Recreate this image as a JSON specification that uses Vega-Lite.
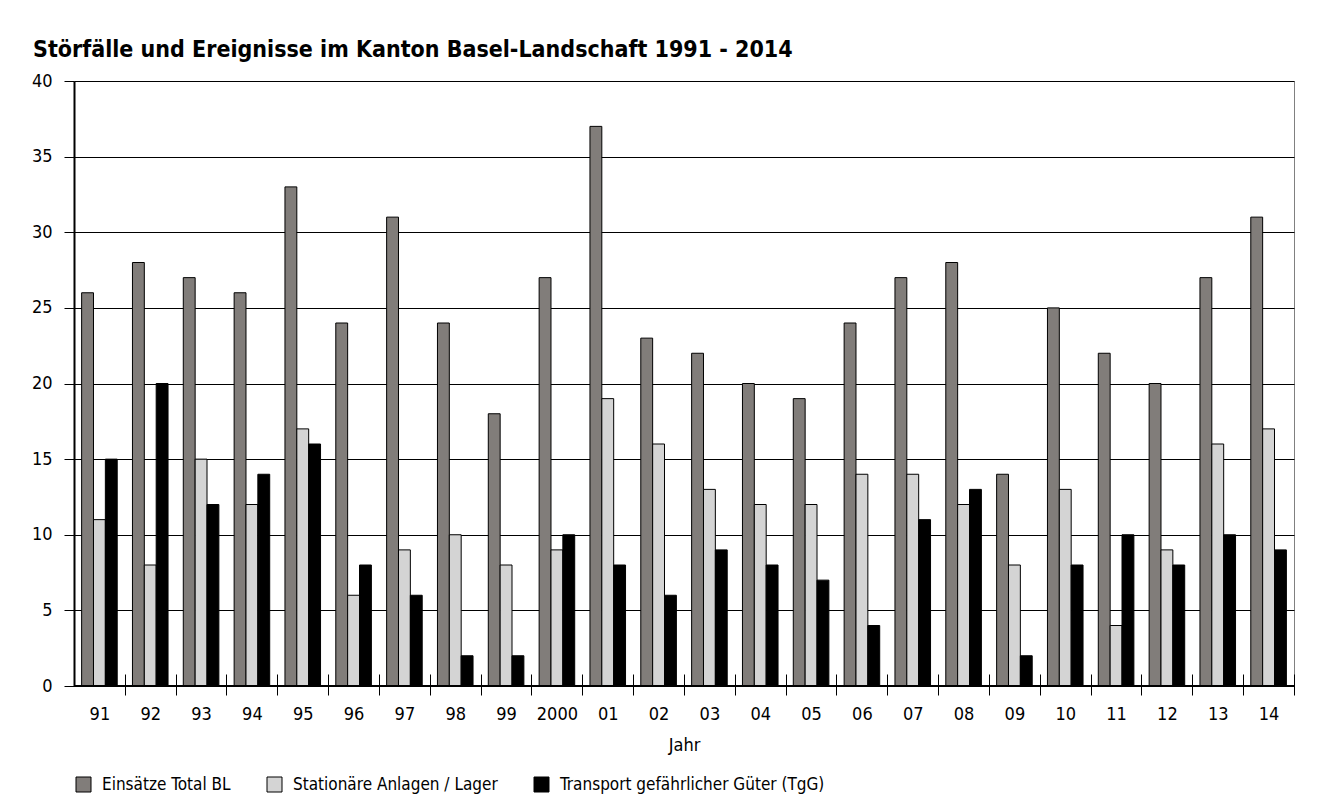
{
  "$schema": "https://vega.github.io/schema/vega-lite/v6.json",
  "autosize": "none",
  "width": 1220,
  "height": 605,
  "padding": {"left": 74, "top": 81, "right": 27, "bottom": 118},
  "background": "white",
  "title": {
    "text": "Störfälle und Ereignisse im Kanton Basel-Landschaft 1991 - 2014",
    "anchor": "start",
    "frame": "group",
    "dx": -41,
    "offset": 10,
    "font": "DejaVu Sans Condensed, sans-serif",
    "fontSize": 23,
    "fontWeight": "bold",
    "color": "#000"
  },
  "config": {
    "font": "DejaVu Sans Condensed, sans-serif",
    "view": {"stroke": "#808080", "strokeWidth": 1}
  },
  "data": {
    "values": [
      {"Jahr": "91", "Serie": "Einsätze Total BL", "Wert": 26},
      {"Jahr": "91", "Serie": "Stationäre Anlagen / Lager", "Wert": 11},
      {"Jahr": "91", "Serie": "Transport gefährlicher Güter (TgG)", "Wert": 15},
      {"Jahr": "92", "Serie": "Einsätze Total BL", "Wert": 28},
      {"Jahr": "92", "Serie": "Stationäre Anlagen / Lager", "Wert": 8},
      {"Jahr": "92", "Serie": "Transport gefährlicher Güter (TgG)", "Wert": 20},
      {"Jahr": "93", "Serie": "Einsätze Total BL", "Wert": 27},
      {"Jahr": "93", "Serie": "Stationäre Anlagen / Lager", "Wert": 15},
      {"Jahr": "93", "Serie": "Transport gefährlicher Güter (TgG)", "Wert": 12},
      {"Jahr": "94", "Serie": "Einsätze Total BL", "Wert": 26},
      {"Jahr": "94", "Serie": "Stationäre Anlagen / Lager", "Wert": 12},
      {"Jahr": "94", "Serie": "Transport gefährlicher Güter (TgG)", "Wert": 14},
      {"Jahr": "95", "Serie": "Einsätze Total BL", "Wert": 33},
      {"Jahr": "95", "Serie": "Stationäre Anlagen / Lager", "Wert": 17},
      {"Jahr": "95", "Serie": "Transport gefährlicher Güter (TgG)", "Wert": 16},
      {"Jahr": "96", "Serie": "Einsätze Total BL", "Wert": 24},
      {"Jahr": "96", "Serie": "Stationäre Anlagen / Lager", "Wert": 6},
      {"Jahr": "96", "Serie": "Transport gefährlicher Güter (TgG)", "Wert": 8},
      {"Jahr": "97", "Serie": "Einsätze Total BL", "Wert": 31},
      {"Jahr": "97", "Serie": "Stationäre Anlagen / Lager", "Wert": 9},
      {"Jahr": "97", "Serie": "Transport gefährlicher Güter (TgG)", "Wert": 6},
      {"Jahr": "98", "Serie": "Einsätze Total BL", "Wert": 24},
      {"Jahr": "98", "Serie": "Stationäre Anlagen / Lager", "Wert": 10},
      {"Jahr": "98", "Serie": "Transport gefährlicher Güter (TgG)", "Wert": 2},
      {"Jahr": "99", "Serie": "Einsätze Total BL", "Wert": 18},
      {"Jahr": "99", "Serie": "Stationäre Anlagen / Lager", "Wert": 8},
      {"Jahr": "99", "Serie": "Transport gefährlicher Güter (TgG)", "Wert": 2},
      {"Jahr": "2000", "Serie": "Einsätze Total BL", "Wert": 27},
      {"Jahr": "2000", "Serie": "Stationäre Anlagen / Lager", "Wert": 9},
      {"Jahr": "2000", "Serie": "Transport gefährlicher Güter (TgG)", "Wert": 10},
      {"Jahr": "01", "Serie": "Einsätze Total BL", "Wert": 37},
      {"Jahr": "01", "Serie": "Stationäre Anlagen / Lager", "Wert": 19},
      {"Jahr": "01", "Serie": "Transport gefährlicher Güter (TgG)", "Wert": 8},
      {"Jahr": "02", "Serie": "Einsätze Total BL", "Wert": 23},
      {"Jahr": "02", "Serie": "Stationäre Anlagen / Lager", "Wert": 16},
      {"Jahr": "02", "Serie": "Transport gefährlicher Güter (TgG)", "Wert": 6},
      {"Jahr": "03", "Serie": "Einsätze Total BL", "Wert": 22},
      {"Jahr": "03", "Serie": "Stationäre Anlagen / Lager", "Wert": 13},
      {"Jahr": "03", "Serie": "Transport gefährlicher Güter (TgG)", "Wert": 9},
      {"Jahr": "04", "Serie": "Einsätze Total BL", "Wert": 20},
      {"Jahr": "04", "Serie": "Stationäre Anlagen / Lager", "Wert": 12},
      {"Jahr": "04", "Serie": "Transport gefährlicher Güter (TgG)", "Wert": 8},
      {"Jahr": "05", "Serie": "Einsätze Total BL", "Wert": 19},
      {"Jahr": "05", "Serie": "Stationäre Anlagen / Lager", "Wert": 12},
      {"Jahr": "05", "Serie": "Transport gefährlicher Güter (TgG)", "Wert": 7},
      {"Jahr": "06", "Serie": "Einsätze Total BL", "Wert": 24},
      {"Jahr": "06", "Serie": "Stationäre Anlagen / Lager", "Wert": 14},
      {"Jahr": "06", "Serie": "Transport gefährlicher Güter (TgG)", "Wert": 4},
      {"Jahr": "07", "Serie": "Einsätze Total BL", "Wert": 27},
      {"Jahr": "07", "Serie": "Stationäre Anlagen / Lager", "Wert": 14},
      {"Jahr": "07", "Serie": "Transport gefährlicher Güter (TgG)", "Wert": 11},
      {"Jahr": "08", "Serie": "Einsätze Total BL", "Wert": 28},
      {"Jahr": "08", "Serie": "Stationäre Anlagen / Lager", "Wert": 12},
      {"Jahr": "08", "Serie": "Transport gefährlicher Güter (TgG)", "Wert": 13},
      {"Jahr": "09", "Serie": "Einsätze Total BL", "Wert": 14},
      {"Jahr": "09", "Serie": "Stationäre Anlagen / Lager", "Wert": 8},
      {"Jahr": "09", "Serie": "Transport gefährlicher Güter (TgG)", "Wert": 2},
      {"Jahr": "10", "Serie": "Einsätze Total BL", "Wert": 25},
      {"Jahr": "10", "Serie": "Stationäre Anlagen / Lager", "Wert": 13},
      {"Jahr": "10", "Serie": "Transport gefährlicher Güter (TgG)", "Wert": 8},
      {"Jahr": "11", "Serie": "Einsätze Total BL", "Wert": 22},
      {"Jahr": "11", "Serie": "Stationäre Anlagen / Lager", "Wert": 4},
      {"Jahr": "11", "Serie": "Transport gefährlicher Güter (TgG)", "Wert": 10},
      {"Jahr": "12", "Serie": "Einsätze Total BL", "Wert": 20},
      {"Jahr": "12", "Serie": "Stationäre Anlagen / Lager", "Wert": 9},
      {"Jahr": "12", "Serie": "Transport gefährlicher Güter (TgG)", "Wert": 8},
      {"Jahr": "13", "Serie": "Einsätze Total BL", "Wert": 27},
      {"Jahr": "13", "Serie": "Stationäre Anlagen / Lager", "Wert": 16},
      {"Jahr": "13", "Serie": "Transport gefährlicher Güter (TgG)", "Wert": 10},
      {"Jahr": "14", "Serie": "Einsätze Total BL", "Wert": 31},
      {"Jahr": "14", "Serie": "Stationäre Anlagen / Lager", "Wert": 17},
      {"Jahr": "14", "Serie": "Transport gefährlicher Güter (TgG)", "Wert": 9}
    ]
  },
  "layer": [
    {
      "mark": {"type": "bar", "stroke": "#000", "strokeWidth": 1},
      "encoding": {
        "x": {
          "field": "Jahr",
          "type": "nominal",
          "sort": null,
          "scale": {"paddingInner": 0.3, "paddingOuter": 0.15},
          "axis": {
            "title": "Jahr",
            "labelAngle": 0,
            "domain": false,
            "offset": -12,
            "tickSize": 21,
            "tickColor": "#000",
            "tickWidth": 1,
            "bandPosition": 1,
            "tickOffset": 7.6,
            "labelOffset": -7.6,
            "labelPadding": 10,
            "labelFontSize": 18,
            "labelColor": "#000",
            "titleFontSize": 18,
            "titleFontWeight": "normal",
            "titleColor": "#000",
            "titlePadding": 13
          }
        },
        "xOffset": {
          "field": "Serie",
          "sort": ["Einsätze Total BL", "Stationäre Anlagen / Lager", "Transport gefährlicher Güter (TgG)"]
        },
        "y": {
          "field": "Wert",
          "type": "quantitative",
          "scale": {"domain": [0, 40]},
          "axis": {
            "title": null,
            "values": [0, 5, 10, 15, 20, 25, 30, 35, 40],
            "domainColor": "#000",
            "domainWidth": 2,
            "tickColor": "#000",
            "tickSize": 10,
            "labelPadding": 12,
            "labelFontSize": 18,
            "labelColor": "#000",
            "gridColor": "#000",
            "gridWidth": 1
          }
        },
        "color": {
          "field": "Serie",
          "type": "nominal",
          "scale": {
            "domain": ["Einsätze Total BL", "Stationäre Anlagen / Lager", "Transport gefährlicher Güter (TgG)"],
            "range": ["#817d7a", "#d4d4d4", "#000000"]
          },
          "legend": {
            "title": null,
            "orient": "none",
            "direction": "horizontal",
            "legendX": 1,
            "legendY": 695,
            "symbolType": "square",
            "symbolSize": 225,
            "symbolStrokeColor": "#000",
            "symbolStrokeWidth": 1,
            "symbolOpacity": 1,
            "labelFontSize": 17,
            "labelLimit": 0,
            "labelColor": "#000",
            "labelOffset": 10,
            "columnPadding": 34
          }
        }
      }
    },
    {
      "mark": {"type": "rule", "color": "#000", "strokeWidth": 2},
      "encoding": {"y": {"datum": 0}}
    }
  ]
}
